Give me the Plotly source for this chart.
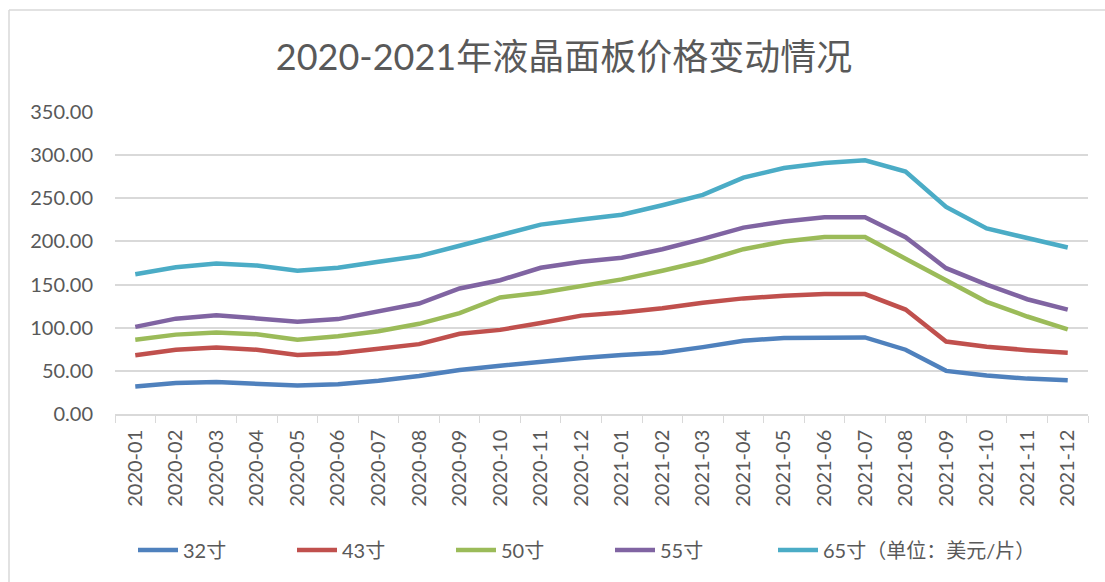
import plotly.graph_objects as go

months = ["2020-01","2020-02","2020-03","2020-04","2020-05","2020-06","2020-07","2020-08",
          "2020-09","2020-10","2020-11","2020-12","2021-01","2021-02","2021-03","2021-04",
          "2021-05","2021-06","2021-07","2021-08","2021-09","2021-10","2021-11","2021-12"]

s32 = [32, 36, 37, 35.5, 33, 34.5, 38.5, 44, 51, 56, 61, 65, 68.5, 71, 77.5, 85, 88, 88.7, 88.7, 74.5, 50, 44.5, 41, 39]
s43 = [68, 74.5, 77, 74.5, 68.5, 70.5, 75.5, 81, 93, 97.5, 105.5, 114, 117.5, 122.5, 129, 134, 137, 139, 139, 121, 84, 78, 74, 71]
s50 = [86, 92, 94.5, 92.5, 86, 90, 96, 104.5, 117, 135, 140.5, 148, 156, 166, 177, 191, 200, 205, 205, 180, 155, 130, 113, 98]
s55 = [101, 110.5, 114.5, 111, 107, 110, 118.5, 128, 145.5, 155, 169.5, 176.5, 181, 191, 203, 216, 223, 228, 228, 205, 169, 150, 133, 121]
s65 = [162, 170, 174.5, 172, 166, 169.5, 176.5, 183, 195, 207, 219.5, 225.5, 231, 242, 254, 274, 285, 291, 294, 281, 240, 215, 204, 193]

names = ["32寸", "43寸", "50寸", "55寸", "65寸（单位：美元/片）"]
series = [s32, s43, s50, s55, s65]
colors = ["#4F81BD", "#C0504D", "#9BBB59", "#8064A2", "#4BACC6"]

FONT = "Lato, 'Noto Sans CJK SC', sans-serif"
TXT = "#595959"

fig = go.Figure()
for i, (n, s, c) in enumerate(zip(names, series, colors)):
    fig.add_trace(go.Scatter(x=months, y=s, name=n, mode="lines",
                             legend="legend2" if i == 4 else "legend",
                             line=dict(color=c, width=4.5)))

L, R, T, B = 115, 17, 112, 168
W, H = 1105, 582
pw = W - L - R
ph = H - T - B

def px_x(p):
    return (p - L) / pw

def px_y(p):
    return (H - B - p) / ph

leg_common = dict(orientation="h", xanchor="left", y=px_y(550), yanchor="middle",
                  font=dict(size=20, color=TXT, family=FONT), itemwidth=40,
                  tracegroupgap=0, bgcolor="rgba(0,0,0,0)")

fig.update_layout(
    width=W, height=H,
    margin=dict(l=L, r=R, t=T, b=B),
    paper_bgcolor="white", plot_bgcolor="white",
    font=dict(family=FONT, color=TXT, size=20),
    title=dict(text="2020-2021年液晶面板价格变动情况", x=564 / W, xanchor="center",
               y=1 - 57 / H, yanchor="middle", yref="container",
               font=dict(size=36, color=TXT, family=FONT)),
    xaxis=dict(type="category", range=[-0.5, len(months) - 0.5],
               showline=True, linecolor="#D9D9D9", linewidth=1.5,
               ticks="outside", tickson="boundaries", ticklen=7, tickcolor="#D9D9D9",
               tickangle=-90, showgrid=False, ticklabelstandoff=6,
               tickfont=dict(size=20, color=TXT)),
    yaxis=dict(range=[0, 350], dtick=50, tickformat=".2f", showgrid=True,
               gridcolor="#D9D9D9", gridwidth=1.5, zeroline=False, showline=False,
               ticklabelstandoff=21, tickfont=dict(size=20, color=TXT)),
    legend=dict(x=px_x(133), entrywidth=104, entrywidthmode="pixels", **leg_common),
    legend2=dict(x=px_x(773), **leg_common),
    showlegend=True,
    shapes=[
        dict(type="line", xref="paper", yref="paper", x0=px_x(9), x1=px_x(1106),
             y0=px_y(10), y1=px_y(10), line=dict(color="#D9D9D9", width=1.5)),
        dict(type="line", xref="paper", yref="paper", x0=px_x(9), x1=px_x(9),
             y0=px_y(10), y1=px_y(583), line=dict(color="#D9D9D9", width=1.5)),
    ],
)

fig.write_html("out.html", config={"displayModeBar": False},
               post_script="document.body.style.margin='0';document.body.style.overflow='hidden';")
